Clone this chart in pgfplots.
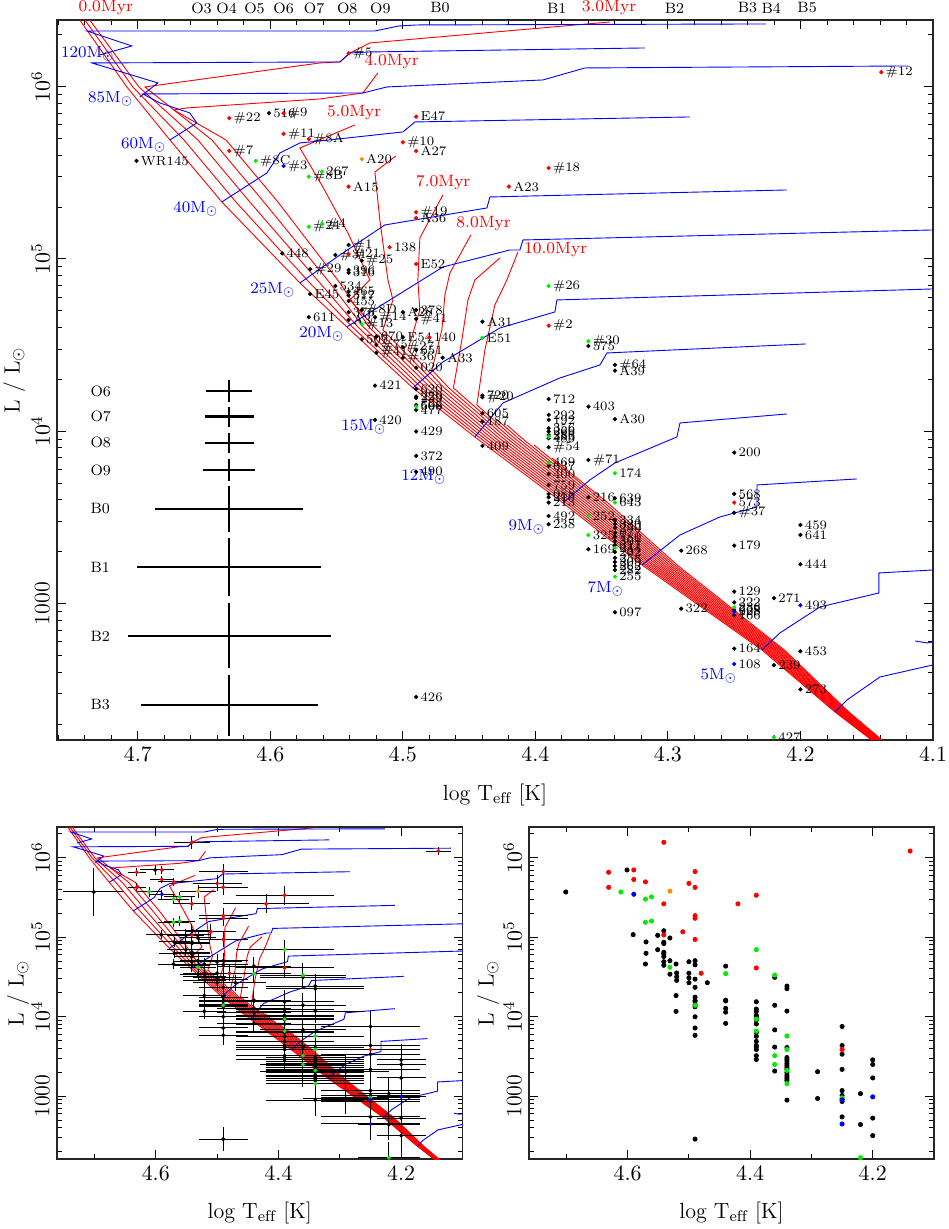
\documentclass[border=0pt]{standalone}
\usepackage{fontspec}
\usepackage{pgfplots}
\pgfplotsset{compat=1.18}
\usepackage{pgfplotstable}
\definecolor{myorange}{rgb}{1,0.55,0}
\definecolor{mygreen}{rgb}{0,0.93,0}

\pgfplotsset{
  hrd/.style={
    scale only axis, anchor=south west,
    x dir=reverse, xmin=4.1, xmax=4.761, ymin=2.208, ymax=6.387,
    ytick={3,4,5,6}, yticklabels={1000,$10^4$,$10^5$,$10^6$},
    minor ytick={2.30103,2.47712,2.60206,2.69897,2.77815,2.84510,2.90309,2.95424,
      3.30103,3.47712,3.60206,3.69897,3.77815,3.84510,3.90309,3.95424,
      4.30103,4.47712,4.60206,4.69897,4.77815,4.84510,4.90309,4.95424,
      5.30103,5.47712,5.60206,5.69897,5.77815,5.84510,5.90309,5.95424,6.30103},
    tick align=inside,
    major tick length=4.5pt, minor tick length=2.5pt,
    every tick/.style={black, line width=0.45pt},
    axis line style={line width=0.6pt, black!85},
    tick label style={font=\fontsize{11}{13}\selectfont},
    x tick label style={/pgf/number format/fixed, /pgf/number format/fixed zerofill, /pgf/number format/precision=1},
    yticklabel style={rotate=90, anchor=south},
    xlabel={log T$_{\mathrm{eff}}$ [K]}, ylabel={L / L$_\odot$},
    label style={font=\fontsize{11}{13}\selectfont},
  },
  iso/.style={red, line width=0.45pt, mark=none},
  trk/.style={blue, line width=0.45pt, mark=none},
  lbl/.style={nodes near coords, point meta=explicit symbolic,
    nodes near coords style={anchor=west, font=\fontsize{6.5}{7}\selectfont, text=black, inner sep=0pt, xshift=2pt}},
}

\newcommand{\isochrones}{%
\addplot[iso] coordinates {(4.1415,2.1793) (4.1740,2.3709) (4.2291,2.7307) (4.3196,3.2240) (4.3792,3.5839) (4.4457,3.9669) (4.4925,4.2513) (4.5423,4.6054) (4.5777,4.8607) (4.6366,5.3308) (4.6758,5.6907) (4.7083,5.9983) (4.7438,6.3871)};
\addplot[iso] coordinates {(4.1410,2.1793) (4.1733,2.3709) (4.2279,2.7307) (4.3177,3.2240) (4.3768,3.5839) (4.4428,3.9669) (4.4891,4.2513) (4.5382,4.6054) (4.5702,4.8607) (4.6260,5.3308) (4.6652,5.6907) (4.7038,5.9983) (4.7400,6.3871)};
\addplot[iso] coordinates {(4.1404,2.1793) (4.1725,2.3709) (4.2267,2.7307) (4.3158,3.2240) (4.3744,3.5839) (4.4400,3.9669) (4.4857,4.2513) (4.5340,4.6054) (4.5626,4.8607) (4.6155,5.3308) (4.6547,5.6907) (4.6992,5.9983) (4.7363,6.3871)};
\addplot[iso] coordinates {(4.1399,2.1793) (4.1718,2.3709) (4.2255,2.7307) (4.3139,3.2240) (4.3719,3.5839) (4.4371,3.9669) (4.4823,4.2513) (4.5299,4.6054) (4.5551,4.8607) (4.6049,5.3308) (4.6441,5.6907) (4.6947,5.9983) (4.5626,6.1376) (4.5475,6.1434) (4.5400,6.1956) (4.5249,6.2536) (4.3438,6.3755)};
\addplot[iso] coordinates {(4.1394,2.1793) (4.1710,2.3709) (4.2243,2.7307) (4.3120,3.2240) (4.3695,3.5839) (4.4342,3.9669) (4.4789,4.2513) (4.5257,4.6054) (4.5475,4.8607) (4.5943,5.3308) (4.6335,5.6907) (4.6728,5.8648) (4.6630,5.8764) (4.5626,5.9286) (4.5302,5.9634) (4.5189,6.0795)};
\addplot[iso] coordinates {(4.1389,2.1793) (4.1703,2.3709) (4.2231,2.7307) (4.3102,3.2240) (4.3671,3.5839) (4.4314,3.9669) (4.4755,4.2513) (4.5216,4.6054) (4.5400,4.7620) (4.5249,4.8781) (4.5415,5.1509) (4.5604,5.4179) (4.5777,5.6442) (4.5362,5.7777)};
\addplot[iso] coordinates {(4.1383,2.1793) (4.1695,2.3709) (4.2218,2.7307) (4.3083,3.2240) (4.3647,3.5839) (4.4285,3.9669) (4.4721,4.2513) (4.5151,4.5879) (4.5075,4.7620) (4.5113,4.8781) (4.5174,5.2263) (4.5211,5.5049) (4.5053,5.5978)};
\addplot[iso] coordinates {(4.1378,2.1793) (4.1688,2.3709) (4.2206,2.7307) (4.3064,3.2240) (4.3623,3.5839) (4.4256,3.9669) (4.4687,4.2513) (4.4962,4.4718) (4.4872,4.7040) (4.4887,4.8781) (4.4872,5.1219) (4.4698,5.3714)};
\addplot[iso] coordinates {(4.1373,2.1793) (4.1680,2.3709) (4.2194,2.7307) (4.3045,3.2240) (4.3598,3.5839) (4.4227,3.9669) (4.4653,4.2513) (4.4781,4.3558) (4.4706,4.5879) (4.4683,4.7911) (4.4645,4.9187) (4.4487,5.1393)};
\addplot[iso] coordinates {(4.1367,2.1793) (4.1673,2.3709) (4.2182,2.7307) (4.3026,3.2240) (4.3574,3.5839) (4.4199,3.9669) (4.4619,4.2513) (4.4555,4.5299) (4.4509,4.7620) (4.4457,4.8781) (4.4268,5.0058)};
\addplot[iso] coordinates {(4.1362,2.1793) (4.1665,2.3709) (4.2170,2.7307) (4.3007,3.2240) (4.3550,3.5839) (4.4170,3.9669) (4.4442,4.1526) (4.4381,4.4718) (4.4306,4.7330) (4.4215,4.8781) (4.4132,5.0406)};
\addplot[iso] coordinates {(4.1357,2.1793) (4.1658,2.3709) (4.2158,2.7307) (4.2988,3.2240) (4.3526,3.5839) (4.4141,3.9669) (4.4287,4.0656)};
\addplot[iso] coordinates {(4.1351,2.1793) (4.1650,2.3709) (4.2146,2.7307) (4.2969,3.2240) (4.3502,3.5839) (4.4113,3.9669) (4.4215,4.0366)};
\addplot[iso] coordinates {(4.1346,2.1793) (4.1643,2.3709) (4.2134,2.7307) (4.2950,3.2240) (4.3477,3.5839) (4.4011,3.9205)};
\addplot[iso] coordinates {(4.1341,2.1793) (4.1635,2.3709) (4.2122,2.7307) (4.2931,3.2240) (4.3453,3.5839) (4.3875,3.8450)};
}

\newcommand{\tracks}{%
\addplot[trk] coordinates {(4.7287,6.1840) (4.7045,6.2362) (4.7385,6.3233) (4.5211,6.3233) (4.5030,6.3523) (4.4894,6.3581) (4.2260,6.3639)};
\addplot[trk] coordinates {(4.6985,5.9402) (4.6849,6.0215) (4.7347,6.1376) (4.5475,6.1434) (4.5400,6.1956) (4.5249,6.2014) (4.3174,6.2246)};
\addplot[trk] coordinates {(4.6758,5.6907) (4.6555,5.7893) (4.6608,5.8474) (4.6834,5.9054) (4.6962,5.9576) (4.5302,5.9634) (4.5121,5.9983) (4.3943,6.0389) (4.3626,6.1085) (4.1189,6.1201)};
\addplot[trk] coordinates {(4.6366,5.3308) (4.6026,5.4991) (4.5928,5.6152) (4.5777,5.6732) (4.5626,5.6848) (4.5000,5.7371) (4.4909,5.7951) (4.2834,5.8241)};
\addplot[trk] coordinates {(4.5777,4.8607) (4.5475,5.0232) (4.5136,5.1973) (4.4366,5.2960) (4.4343,5.3598) (4.2102,5.4004)};
\addplot[trk] coordinates {(4.5423,4.6054) (4.5098,4.7620) (4.4698,4.9535) (4.4192,5.0522) (4.4117,5.0522) (4.4094,5.1102) (4.1000,5.1683)};
\addplot[trk] coordinates {(4.4925,4.2513) (4.4698,4.4021) (4.4268,4.5995) (4.3853,4.6924) (4.3838,4.7620) (4.1000,4.8258)};
\addplot[trk] coordinates {(4.4457,3.9669) (4.4245,4.1642) (4.3815,4.3093) (4.3513,4.3847) (4.3460,4.4544) (4.1958,4.5066)};
\addplot[trk] coordinates {(4.3792,3.5839) (4.3589,3.7173) (4.3400,3.8159) (4.2932,3.9669) (4.2909,4.0481) (4.2102,4.1003)};
\addplot[trk] coordinates {(4.3196,3.2240) (4.2909,3.3981) (4.2608,3.5025) (4.2328,3.5606) (4.2328,3.6883) (4.1574,3.7231)};
\addplot[trk] coordinates {(4.2291,2.7307) (4.2155,2.8293) (4.1853,2.9802) (4.1408,3.0614) (4.1408,3.1775) (4.1000,3.1949)};
\addplot[trk] coordinates {(4.1740,2.3709) (4.1649,2.4404) (4.1400,2.5739) (4.1000,2.6435)};
\addplot[trk] coordinates {(4.1136,2.7828) (4.1045,2.7712) (4.1000,2.7770)};
}

\begin{document}
\pgfplotstableread{
T L ex ey lab
4.541 6.194 0.03 0.08 \#5
4.139 6.084 0.02 0.05 \#12
4.631 5.817 0.015 0.05 \#22
4.590 5.846 0.02 0.05 \#9
4.590 5.726 0.02 0.05 \#11
4.571 5.696 0.025 0.05 \#8A
4.631 5.627 0.015 0.05 \#7
4.490 5.826 0.04 0.10 E47
4.500 5.677 0.04 0.10 \#10
4.490 5.627 0.04 0.10 A27
4.390 5.528 0.08 0.12 \#18
4.541 5.420 0.03 0.08 A15
4.420 5.420 0.07 0.12 A23
4.490 5.271 0.04 0.10 \#19
4.490 5.238 0.04 0.10 A36
4.510 5.068 0.04 0.10 138
4.541 5.028 0.03 0.08 \#21
4.490 4.971 0.04 0.10 E52
4.390 4.613 0.08 0.12 \#2
4.480 4.546 0.04 0.10 140
4.250 3.586 0.08 0.20 573
}\redT
\pgfplotstableread{
T L ex ey lab
4.531 5.579 0.03 0.08 A20
}\orangeT
\pgfplotstableread{
T L ex ey lab
4.590 5.540 0.02 0.06 \#3
4.250 2.953 0.08 0.20 228
4.250 2.649 0.08 0.20 108
4.200 2.990 0.04 0.20 493
}\blueT
\pgfplotstableread{
T L ex ey lab
4.611 5.569 0.02 0.06 \#8C
4.571 5.478 0.025 0.06 \#8B
4.561 5.507 0.025 0.06 267
4.571 5.187 0.025 0.06 \#24
4.561 5.203 0.025 0.06 \#4
4.531 4.621 0.03 0.08 \#13
4.440 4.542 0.06 0.12 E51
4.390 4.843 0.08 0.12 \#26
4.360 4.522 0.07 0.15 \#30
4.490 4.143 0.04 0.12 568
4.390 3.969 0.08 0.15 353
4.390 3.818 0.08 0.15 469
4.340 3.756 0.08 0.15 174
4.340 3.586 0.08 0.15 643
4.360 3.508 0.07 0.15 252
4.360 3.398 0.07 0.15 325
4.340 3.323 0.08 0.20 244
4.340 3.156 0.08 0.20 255
4.250 2.978 0.08 0.20 236
4.220 2.224 0.05 0.20 427
}\greenT
\pgfplotstableread{
T L ex ey lab
4.701 5.569 0.05 0.30 WR145
4.601 5.846 0.025 0.06 516
4.591 5.032 0.025 0.06 448
4.541 5.081 0.03 0.08 \#1
4.551 5.023 0.03 0.08 \#31
4.531 4.990 0.03 0.08 \#25
4.570 4.940 0.025 0.06 \#29
4.541 4.936 0.03 0.08 396
4.541 4.920 0.03 0.08 316
4.551 4.843 0.03 0.08 534
4.570 4.797 0.025 0.06 E45
4.541 4.810 0.03 0.08 465
4.541 4.789 0.03 0.08 517
4.541 4.756 0.03 0.08 455
4.571 4.662 0.025 0.06 611
4.541 4.691 0.03 0.08 376
4.531 4.704 0.03 0.08 \#8D
4.541 4.646 0.03 0.08 A3
4.521 4.662 0.035 0.08 \#14
4.500 4.691 0.04 0.10 A28
4.490 4.704 0.04 0.10 378
4.490 4.652 0.04 0.10 \#41
4.440 4.636 0.06 0.12 A31
4.531 4.534 0.03 0.08 507
4.520 4.549 0.035 0.08 670
4.520 4.501 0.035 0.08 \#75
4.500 4.546 0.04 0.10 E54
4.500 4.488 0.04 0.10 \#27
4.520 4.456 0.035 0.08 \#41
4.500 4.427 0.04 0.10 \#36
4.490 4.472 0.04 0.10 651
4.470 4.427 0.05 0.10 A33
4.490 4.369 0.04 0.10 020
4.521 4.265 0.035 0.10 421
4.490 4.245 0.04 0.12 620
4.490 4.201 0.04 0.12 229
4.490 4.193 0.04 0.12 239
4.490 4.153 0.04 0.12 606
4.490 4.124 0.04 0.12 477
4.521 4.066 0.035 0.10 420
4.490 3.998 0.04 0.12 429
4.490 3.857 0.04 0.12 372
4.490 3.765 0.04 0.12 490
4.440 4.207 0.06 0.12 720
4.440 4.197 0.06 0.12 \#20
4.440 4.104 0.06 0.12 605
4.440 4.056 0.06 0.12 187
4.440 3.915 0.06 0.12 409
4.360 4.495 0.07 0.15 575
4.340 4.385 0.08 0.15 \#64
4.340 4.352 0.08 0.15 A39
4.390 4.187 0.08 0.15 712
4.360 4.143 0.07 0.15 403
4.340 4.070 0.08 0.15 A30
4.390 4.095 0.08 0.15 292
4.390 4.066 0.08 0.15 192
4.390 4.017 0.08 0.15 356
4.390 3.998 0.08 0.15 266
4.390 3.978 0.08 0.15 286
4.390 3.959 0.08 0.15 485
4.390 3.907 0.08 0.15 \#54
4.360 3.833 0.07 0.15 \#71
4.390 3.799 0.08 0.15 637
4.390 3.752 0.08 0.15 400
4.390 3.688 0.08 0.15 759
4.390 3.636 0.08 0.15 088
4.390 3.617 0.08 0.15 215
4.390 3.586 0.08 0.15 213
4.360 3.617 0.07 0.15 216
4.340 3.611 0.08 0.15 639
4.390 3.508 0.08 0.15 492
4.390 3.460 0.08 0.15 238
4.360 3.315 0.07 0.20 169
4.340 3.485 0.08 0.20 334
4.340 3.462 0.08 0.20 330
4.340 3.439 0.08 0.20 250
4.340 3.410 0.08 0.20 077
4.340 3.387 0.08 0.20 180
4.340 3.363 0.08 0.20 301
4.340 3.340 0.08 0.20 317
4.340 3.299 0.08 0.20 202
4.340 3.265 0.08 0.20 258
4.340 3.241 0.08 0.20 209
4.340 3.218 0.08 0.20 262
4.340 3.195 0.08 0.20 282
4.340 2.949 0.08 0.20 097
4.290 3.307 0.07 0.20 268
4.290 2.970 0.07 0.20 322
4.250 3.876 0.08 0.20 200
4.250 3.636 0.08 0.20 568
4.250 3.527 0.08 0.20 \#37
4.200 3.456 0.04 0.20 459
4.200 3.398 0.04 0.20 641
4.250 3.336 0.08 0.20 179
4.200 3.228 0.04 0.20 444
4.250 3.069 0.08 0.20 129
4.220 3.031 0.05 0.20 271
4.250 3.007 0.08 0.20 222
4.250 2.963 0.08 0.20 668
4.250 2.932 0.08 0.20 166
4.250 2.738 0.08 0.20 164
4.200 2.723 0.04 0.20 453
4.220 2.642 0.05 0.20 239
4.200 2.502 0.04 0.20 273
4.490 2.458 0.04 0.15 426
}\blackT
\pgfplotstableread{
T L ex ey
4.631 4.234 0.0174 0.066
4.631 4.085 0.0186 0.058
4.631 3.934 0.0184 0.058
4.631 3.775 0.0195 0.064
4.631 3.549 0.0558 0.136
4.631 3.212 0.0694 0.171
4.631 2.812 0.0766 0.189
4.631 2.411 0.0668 0.177
}\sptT

\begin{tikzpicture}
\path[use as bounding box] (0,0) rectangle (474pt,614.5pt);

% ---------------- main panel ----------------
\begin{axis}[hrd, at={(28.5pt,244.5pt)}, width=438pt, height=360pt,
  xtick={4.1,4.2,4.3,4.4,4.5,4.6,4.7},
  minor xtick={4.12,4.14,4.16,4.18,4.22,4.24,4.26,4.28,4.32,4.34,4.36,4.38,4.42,4.44,4.46,4.48,4.52,4.54,4.56,4.58,4.62,4.64,4.66,4.68,4.72,4.74,4.76},
  xlabel style={at={(axis description cs:0.5,-0.0764)}, anchor=center},
  ylabel style={at={(axis description cs:-0.049,0.5)}, anchor=center}]
\isochrones
\tracks
\addplot[only marks, mark=*, mark options={draw=none, fill=none, scale=0.01}, black, error bars/.cd, x dir=both, x explicit, y dir=both, y explicit, error mark=none, error bar style={line width=1.1pt, black}] table[x=T,y=L,x error=ex,y error=ey]{\sptT};
\addplot[black, only marks, mark=*, mark size=0.85pt, lbl] table[x=T,y=L,meta=lab]{\blackT};
\addplot[red, only marks, mark=*, mark size=0.85pt, lbl] table[x=T,y=L,meta=lab]{\redT};
\addplot[myorange, only marks, mark=*, mark size=0.85pt, lbl] table[x=T,y=L,meta=lab]{\orangeT};
\addplot[mygreen, only marks, mark=*, mark size=0.85pt, lbl] table[x=T,y=L,meta=lab]{\greenT};
\addplot[blue, only marks, mark=*, mark size=0.85pt, lbl] table[x=T,y=L,meta=lab]{\blueT};
% spectral type labels of the error crosses
\begin{scope}[every node/.style={anchor=west, font=\fontsize{7.5}{9}\selectfont}]
\node at (axis cs:4.741,4.234) {O6};
\node at (axis cs:4.741,4.085) {O7};
\node at (axis cs:4.741,3.934) {O8};
\node at (axis cs:4.741,3.775) {O9};
\node at (axis cs:4.741,3.549) {B0};
\node at (axis cs:4.741,3.212) {B1};
\node at (axis cs:4.741,2.812) {B2};
\node at (axis cs:4.741,2.411) {B3};
\end{scope}
% isochrone labels
\begin{scope}[every node/.style={red, font=\fontsize{8.2}{9}\selectfont}]
\node at (axis cs:4.5085,6.1451) {4.0Myr};
\node at (axis cs:4.5368,5.8491) {5.0Myr};
\node at (axis cs:4.4696,5.4411) {7.0Myr};
\node at (axis cs:4.4391,5.2031) {8.0Myr};
\node at (axis cs:4.3847,5.0534) {10.0Myr};
\end{scope}
% track labels
\begin{scope}[every node/.style={blue, font=\fontsize{8}{9}\selectfont}]
\node at (axis cs:4.7377,6.1898) {120M$_\odot$};
\node at (axis cs:4.7204,5.9286) {85M$_\odot$};
\node at (axis cs:4.6955,5.6616) {60M$_\odot$};
\node at (axis cs:4.6562,5.2902) {40M$_\odot$};
\node at (axis cs:4.5981,4.8200) {25M$_\odot$};
\node at (axis cs:4.5611,4.5647) {20M$_\odot$};
\node at (axis cs:4.5294,4.0249) {15M$_\odot$};
\node at (axis cs:4.4842,3.7347) {12M$_\odot$};
\node at (axis cs:4.4064,3.4445) {9M$_\odot$};
\node at (axis cs:4.3468,3.0846) {7M$_\odot$};
\node at (axis cs:4.2615,2.5797) {5M$_\odot$};
\end{scope}
\coordinate (sO3) at (axis cs:4.652,6.387);
\coordinate (sO4) at (axis cs:4.633,6.387);
\coordinate (sO5) at (axis cs:4.612,6.387);
\coordinate (sO6) at (axis cs:4.590,6.387);
\coordinate (sO7) at (axis cs:4.567,6.387);
\coordinate (sO8) at (axis cs:4.542,6.387);
\coordinate (sO9) at (axis cs:4.517,6.387);
\coordinate (sB0) at (axis cs:4.472,6.387);
\coordinate (sB1) at (axis cs:4.384,6.387);
\coordinate (sB2) at (axis cs:4.295,6.387);
\coordinate (sB3) at (axis cs:4.240,6.387);
\coordinate (sB4) at (axis cs:4.222,6.387);
\coordinate (sB5) at (axis cs:4.195,6.387);
\coordinate (sM0) at (axis cs:4.7242,6.387);
\coordinate (sM3) at (axis cs:4.3445,6.387);
\end{axis}
\foreach \n/\t in {sO3/O3,sO4/O4,sO5/O5,sO6/O6,sO7/O7,sO8/O8,sO9/O9,sB0/B0,sB1/B1,sB2/B2,sB3/B3,sB4/B4,sB5/B5}
  \node[font=\fontsize{7.5}{9}\selectfont, yshift=6pt] at (\n) {\t};
\node[red, font=\fontsize{8.2}{9}\selectfont, yshift=6pt] at (sM0) {0.0Myr};
\node[red, font=\fontsize{8.2}{9}\selectfont, yshift=6pt] at (sM3) {3.0Myr};

% ---------------- bottom left ----------------
\begin{axis}[hrd, at={(28.5pt,35pt)}, width=202.75pt, height=166pt,
  xtick={4.2,4.4,4.6}, minor xtick={4.1,4.3,4.5,4.7},
  xlabel style={at={(axis description cs:0.5,-0.163)}, anchor=center},
  ylabel style={at={(axis description cs:-0.096,0.5)}, anchor=center}]
\isochrones
\tracks
\addplot[black, only marks, mark=*, mark size=0.8pt, error bars/.cd, x dir=both, x explicit, y dir=both, y explicit, error mark=none, error bar style={black, line width=0.5pt}] table[x=T,y=L,x error=ex,y error=ey]{\blackT};
\addplot[red, only marks, mark=*, mark size=0.8pt, error bars/.cd, x dir=both, x explicit, y dir=both, y explicit, error mark=none, error bar style={black, line width=0.5pt}] table[x=T,y=L,x error=ex,y error=ey]{\redT};
\addplot[myorange, only marks, mark=*, mark size=0.8pt, error bars/.cd, x dir=both, x explicit, y dir=both, y explicit, error mark=none, error bar style={black, line width=0.5pt}] table[x=T,y=L,x error=ex,y error=ey]{\orangeT};
\addplot[mygreen, only marks, mark=*, mark size=0.8pt, error bars/.cd, x dir=both, x explicit, y dir=both, y explicit, error mark=none, error bar style={black, line width=0.5pt}] table[x=T,y=L,x error=ex,y error=ey]{\greenT};
\addplot[blue, only marks, mark=*, mark size=0.8pt, error bars/.cd, x dir=both, x explicit, y dir=both, y explicit, error mark=none, error bar style={black, line width=0.5pt}] table[x=T,y=L,x error=ex,y error=ey]{\blueT};
\end{axis}

% ---------------- bottom right ----------------
\begin{axis}[hrd, at={(264.5pt,35pt)}, width=202.5pt, height=166pt,
  xtick={4.2,4.4,4.6}, minor xtick={4.1,4.3,4.5,4.7},
  xlabel style={at={(axis description cs:0.5,-0.163)}, anchor=center},
  ylabel style={at={(axis description cs:-0.101,0.5)}, anchor=center}]
\addplot[black, only marks, mark=*, mark size=1.05pt] table[x=T,y=L]{\blackT};
\addplot[red, only marks, mark=*, mark size=1.05pt] table[x=T,y=L]{\redT};
\addplot[myorange, only marks, mark=*, mark size=1.05pt] table[x=T,y=L]{\orangeT};
\addplot[mygreen, only marks, mark=*, mark size=1.05pt] table[x=T,y=L]{\greenT};
\addplot[blue, only marks, mark=*, mark size=1.05pt] table[x=T,y=L]{\blueT};
\end{axis}
\end{tikzpicture}
\end{document}
